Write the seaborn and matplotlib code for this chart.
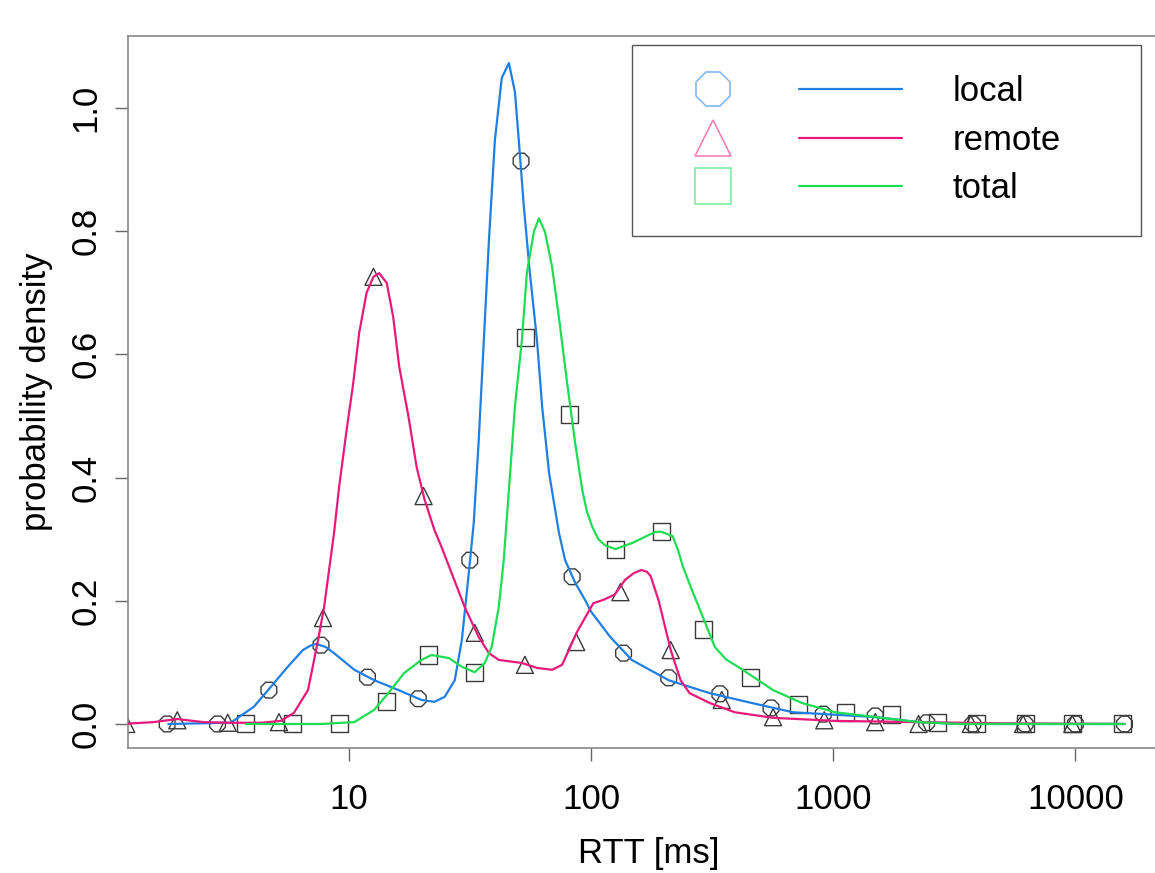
import matplotlib
matplotlib.use("Agg")
import matplotlib.pyplot as plt
from matplotlib.lines import Line2D
from matplotlib.legend_handler import HandlerTuple
from matplotlib.ticker import NullLocator
import pandas as pd
import seaborn as sns

# density curves: RTT in ms, probability density
local_x = [1.79, 3.24, 4.04, 4.74, 5.58, 6.44, 6.9, 7.30, 8.0, 8.66, 10.5, 12.7, 16.0, 19.9,
           22.5, 24.8, 27.3, 29.2, 31.2, 32.7, 34.3, 36.0, 37.8, 40.0, 42.7, 45.7, 48.4, 50.2,
           52.7, 55.8, 59.7, 62.7, 67.0, 73.6, 78.0, 85.9, 94.4, 100, 120, 147, 209, 309, 461,
           682, 1020, 1510, 2250, 3330, 15960]
local_y = [0, 0.002, 0.028, 0.060, 0.093, 0.120, 0.127, 0.130, 0.125, 0.115, 0.088, 0.071,
           0.055, 0.039, 0.036, 0.044, 0.071, 0.136, 0.245, 0.326, 0.461, 0.623, 0.786, 0.948,
           1.049, 1.073, 1.026, 0.948, 0.839, 0.732, 0.623, 0.515, 0.407, 0.310, 0.266, 0.229,
           0.201, 0.182, 0.141, 0.104, 0.071, 0.050, 0.034, 0.019, 0.015, 0.011, 0.003, 0.0, 0.0]

remote_x = [1.15, 1.55, 1.95, 2.50, 3.24, 4.32, 5.22, 5.91, 6.76, 7.44, 7.88, 8.26, 8.66, 9.09,
            9.72, 10.4, 11.0, 11.8, 12.6, 13.3, 14.3, 15.2, 16.1, 17.6, 19.0, 20.5, 22.5, 24.1,
            26.5, 30.0, 34.3, 37.8, 41.5, 51.7, 59.7, 68.9, 75.8, 87.5, 102, 113, 125, 138, 150,
            161, 170, 176, 190, 213, 234, 255, 309, 392, 564, 1020, 2250, 5070, 15960]
remote_y = [0, 0.003, 0.008, 0.003, 0.002, 0.002, 0.005, 0.018, 0.055, 0.136, 0.190, 0.250,
            0.310, 0.385, 0.472, 0.554, 0.635, 0.700, 0.726, 0.732, 0.716, 0.661, 0.580, 0.498,
            0.417, 0.364, 0.315, 0.287, 0.245, 0.190, 0.141, 0.115, 0.104, 0.099, 0.091, 0.088,
            0.096, 0.150, 0.196, 0.202, 0.210, 0.234, 0.245, 0.250, 0.247, 0.240, 0.200, 0.120,
            0.071, 0.050, 0.034, 0.019, 0.010, 0.005, 0.003, 0.001, 0.0]

total_x = [3.74, 7.65, 10.5, 12.7, 14.5, 16.9, 19.9, 21.9, 25.8, 29.2, 33.0, 36.3, 38.8, 41.5,
           43.5, 45.7, 48.4, 51.7, 54.2, 58.0, 60.8, 64.4, 68.9, 73.6, 79.5, 85.9, 91.8, 96,
           101, 107, 114, 126, 148, 184, 195, 217, 228, 239, 262, 275, 324, 360, 411, 564, 743,
           1020, 1510, 2250, 3330, 15960]
total_y = [0, 0, 0.003, 0.023, 0.050, 0.083, 0.104, 0.112, 0.107, 0.093, 0.084, 0.099, 0.125,
           0.190, 0.266, 0.380, 0.516, 0.623, 0.732, 0.800, 0.821, 0.799, 0.742, 0.659, 0.554,
           0.455, 0.380, 0.345, 0.320, 0.300, 0.290, 0.284, 0.294, 0.312, 0.312, 0.305, 0.283,
           0.256, 0.215, 0.195, 0.125, 0.105, 0.091, 0.055, 0.034, 0.019, 0.011, 0.003, 0.0, 0.0]

# sampled points (open black markers)
local_pts_x = [1.77, 2.86, 4.66, 7.65, 11.9, 19.3, 31.5, 51.3, 83.4, 136, 209, 340, 553, 909,
               1490, 2430, 3770, 6200, 10000, 15960]
local_pts_y = [0, 0, 0.055, 0.128, 0.076, 0.041, 0.266, 0.914, 0.239, 0.115, 0.075, 0.049,
               0.026, 0.016, 0.013, 0.002, 0, 0, 0, 0]
remote_pts_x = [1.20, 1.95, 3.15, 5.13, 7.80, 12.6, 20.3, 33.0, 53.2, 86.7, 132, 213, 346, 564,
                918, 1490, 2250, 3700, 6080, 9720]
remote_pts_y = [0, 0.006, 0.002, 0.003, 0.172, 0.726, 0.370, 0.148, 0.096, 0.133, 0.214, 0.120,
                0.039, 0.011, 0.006, 0.003, 0, 0, 0, 0]
total_pts_x = [3.74, 5.86, 9.10, 14.3, 21.3, 33.0, 53.7, 81.1, 126, 195, 292, 457, 716, 1120,
               1740, 2700, 3920, 6200, 9720, 15700]
total_pts_y = [0, 0, 0, 0.036, 0.112, 0.084, 0.627, 0.502, 0.284, 0.312, 0.154, 0.076, 0.032,
               0.019, 0.015, 0.003, 0, 0, 0, 0]

labels = ["local", "remote", "total"]
colors = ["#1f7fe3", "#e8197a", "#1fdc55"]
markers = ["8", "^", "s"]

sns.set_style("ticks")
plt.rcParams["font.family"] = ["Liberation Sans", "DejaVu Sans"]
plt.rcParams["text.color"] = "black"
plt.rcParams["axes.labelcolor"] = "black"
plt.rcParams["xtick.labelcolor"] = "black"
plt.rcParams["ytick.labelcolor"] = "black"

fig = plt.figure(figsize=(11.55, 8.73), dpi=100)
ax = fig.add_axes([128 / 1155, 1 - 748 / 873, (1170 - 128) / 1155, (748 - 36) / 873])
ax.set_xscale("log")

pts = [(local_pts_x, local_pts_y), (remote_pts_x, remote_pts_y), (total_pts_x, total_pts_y)]
for (px, py), mk in zip(pts, markers):
    sns.scatterplot(x=px, y=py, marker=mk, s=150, facecolor="none", edgecolor="#3a3a3a",
                    linewidth=1.0, ax=ax, zorder=2)

curves = [(local_x, local_y), (remote_x, remote_y), (total_x, total_y)]
for (cx, cy), col in zip(curves, colors):
    df = pd.DataFrame({"rtt": cx, "density": cy})
    sns.lineplot(data=df, x="rtt", y="density", color=col, linewidth=1.6, sort=False,
                 estimator=None, ax=ax, zorder=3)

ax.set_xlim(1.22, 24600)
ax.set_ylim(-0.039, 1.117)
ax.set_xticks([10, 100, 1000, 10000])
ax.set_xticklabels(["10", "100", "1000", "10000"])
ax.xaxis.set_minor_locator(NullLocator())
ax.set_yticks([0.0, 0.2, 0.4, 0.6, 0.8, 1.0])
ax.set_yticklabels(["0.0", "0.2", "0.4", "0.6", "0.8", "1.0"])
ax.tick_params(axis="both", length=9.5, width=1, color="#666666", labelsize=25,
               labelcolor="black")
ax.tick_params(axis="x", pad=16)
ax.tick_params(axis="y", labelrotation=90, pad=9)
for lab in ax.get_yticklabels():
    lab.set_va("center")
for sp in ax.spines.values():
    sp.set_color("#888888")
    sp.set_linewidth(1.2)

ax.set_xlabel("RTT [ms]", fontsize=25, labelpad=15, color="black")
ax.set_ylabel("probability density", fontsize=25, labelpad=12, color="black")

handles = []
for col, mk in zip(colors, markers):
    m = Line2D([], [], marker=mk, ls="none", ms=26, mfc="none", mec=col, mew=1.2, alpha=0.55)
    ln = Line2D([], [], color=col, lw=1.6)
    handles.append((m, ln))
leg = ax.legend(handles, labels, handler_map={tuple: HandlerTuple(ndivide=2, pad=1.0)},
                loc="upper left", bbox_to_anchor=(0.4837, 0.7163, 0.4885, 0.2711),
                mode="expand", borderaxespad=0, fontsize=25, handlelength=6.9,
                handletextpad=1.45, borderpad=0.87, labelspacing=0.45, fancybox=False,
                framealpha=1, edgecolor="#555555")
leg.get_frame().set_linewidth(1.0)
for t in leg.get_texts():
    t.set_color("black")

fig.savefig("out.png", dpi=100)
